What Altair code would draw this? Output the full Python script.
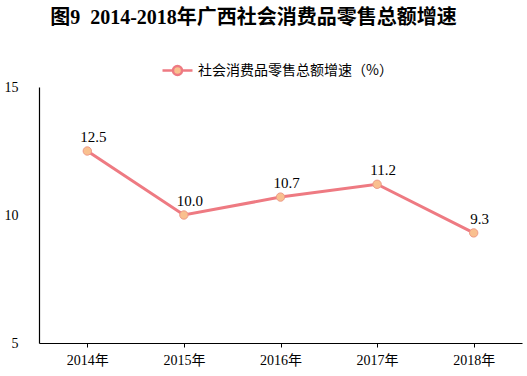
import altair as alt
import pandas as pd

years = ["2014年", "2015年", "2016年", "2017年", "2018年"]
values = [12.5, 10.0, 10.7, 11.2, 9.3]
series = "社会消费品零售总额增速（%）"
title = "图9\u00a0\u00a02014-2018年广西社会消费品零售总额增速"

df = pd.DataFrame({"year": years, "value": values, "series": [series] * len(years)})
df["label"] = df["value"].map(lambda v: f"{v:.1f}")

LINE = "#EE7A82"
PFILL = "#F9C08F"
FONT = "Liberation Serif, Noto Sans CJK SC"

x = alt.X("year:N", sort=years, title=None,
          scale=alt.Scale(paddingInner=0, paddingOuter=0),
          axis=alt.Axis(bandPosition=0, labelAngle=0, labelFontSize=14, labelColor="#000",
                        labelFont=FONT, labelPadding=6, tickSize=4, tickColor="#000",
                        domainColor="#000", domainWidth=1.2))
y = alt.Y("value:Q", title=None,
          scale=alt.Scale(domain=[5, 15], nice=False, zero=False),
          axis=alt.Axis(values=[5, 10, 15], grid=False, ticks=False, labelFontSize=14,
                        labelColor="#000", labelFont=FONT, labelPadding=21,
                        domainColor="#000", domainWidth=1.2))

legend_path = ("M-1,0L-0.3,0M0.3,0L1,0M-0.3,0A0.3,0.3,0,1,0,0.3,0"
               "A0.3,0.3,0,1,0,-0.3,0Z")

line = alt.Chart(df).mark_line(strokeWidth=3).encode(
    x=x, y=y,
    color=alt.Color("series:N", scale=alt.Scale(range=[LINE]),
                    legend=alt.Legend(title=None, orient="none", legendX=122, legendY=-33,
                                      symbolType=legend_path, symbolSize=900,
                                      symbolStrokeWidth=2.5, symbolFillColor=PFILL,
                                      symbolStrokeColor=LINE, labelLimit=400,
                                      labelFontSize=14, labelFont="Noto Sans CJK SC",
                                      labelColor="#000", labelOffset=4)),
)
points = alt.Chart(df).mark_point(filled=True, size=70, fill=PFILL, stroke="#EE9A88",
                                  strokeWidth=1, opacity=1).encode(x=x, y=y)
labels = alt.Chart(df).mark_text(dy=-14, dx=6, fontSize=15, font=FONT, color="#000").encode(
    x=x, y=y, text="label:N")

chart = alt.layer(line, points, labels).properties(
    width=483, height=256,
    autosize=alt.AutoSizeParams(type="none"),
    padding={"left": 39, "top": 87, "right": 5, "bottom": 33},
    title=alt.TitleParams(title, fontSize=20, font=FONT, fontWeight="bold",
                          color="#000", anchor="middle", offset=26, dx=-27),
).configure(background="white").configure_view(stroke=None, strokeWidth=0)

chart.save("out.html", embed_options={"renderer": "svg", "actions": False})
